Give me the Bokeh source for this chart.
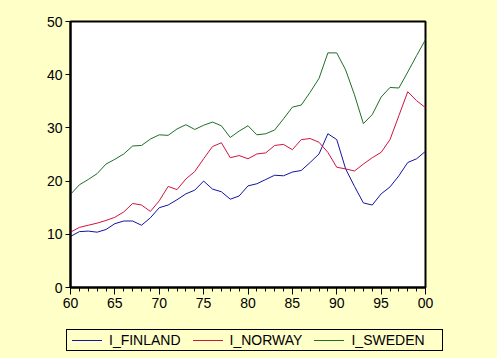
from bokeh.plotting import figure
from bokeh.layouts import column
from bokeh.models import Range1d, FixedTicker, ColumnDataSource, Div
from bokeh.embed import file_html
from bokeh.resources import INLINE

years = list(range(1960, 2001))
finland = [9.6, 10.5, 10.6, 10.4, 10.9, 12.0, 12.5, 12.5, 11.7, 13.1,
           15.0, 15.5, 16.5, 17.6, 18.3, 20.0, 18.5, 18.0, 16.6, 17.2,
           19.1, 19.5, 20.3, 21.1, 21.0, 21.7, 22.0, 23.5, 25.1, 28.9,
           27.8, 22.3, 19.0, 15.9, 15.5, 17.6, 18.9, 21.0, 23.5, 24.2, 25.6]
norway = [10.4, 11.3, 11.7, 12.1, 12.6, 13.2, 14.2, 15.8, 15.5, 14.3,
          16.3, 19.0, 18.4, 20.4, 21.8, 24.2, 26.5, 27.2, 24.4, 24.8,
          24.2, 25.1, 25.3, 26.7, 26.9, 25.9, 27.8, 28.0, 27.3, 25.4,
          22.6, 22.3, 21.9, 23.2, 24.4, 25.4, 27.8, 32.3, 36.8, 35.1, 33.8]
sweden = [17.5, 19.3, 20.3, 21.4, 23.2, 24.1, 25.1, 26.6, 26.7, 27.9,
          28.7, 28.6, 29.8, 30.6, 29.7, 30.5, 31.1, 30.4, 28.2, 29.4,
          30.4, 28.7, 28.9, 29.6, 31.7, 33.9, 34.3, 36.7, 39.3, 44.1,
          44.1, 40.9, 36.2, 30.8, 32.5, 35.8, 37.6, 37.5, 40.5, 43.6, 46.6]
series_names = ["I_FINLAND", "I_NORWAY", "I_SWEDEN"]
x_ticks = [1960, 1965, 1970, 1975, 1980, 1985, 1990, 1995, 2000]
x_tick_labels = ["60", "65", "70", "75", "80", "85", "90", "95", "00"]
y_ticks = [0, 10, 20, 30, 40, 50]

BG = "#FFFFC8"
colors = ["#1414A0", "#D0143C", "#1E6E28"]
FONT = "Liberation Sans"

# main chart
p = figure(width=497, height=317, output_backend="svg", toolbar_location=None,
           x_range=Range1d(1960, 2000), y_range=Range1d(0, 50),
           min_border_left=70, min_border_top=21, min_border_right=72, min_border_bottom=30)
p.border_fill_color = BG
p.background_fill_color = "white"
p.outline_line_color = "black"
p.outline_line_width = 2
p.xgrid.visible = False
p.ygrid.visible = False

p.xaxis.ticker = FixedTicker(ticks=x_ticks, minor_ticks=years)
p.xaxis.major_label_overrides = {t: l for t, l in zip(x_ticks, x_tick_labels)}
p.yaxis.ticker = FixedTicker(ticks=y_ticks, minor_ticks=[])
for ax in (p.xaxis[0], p.yaxis[0]):
    ax.axis_line_color = "black"
    ax.axis_line_width = 2
    ax.major_tick_line_color = "black"
    ax.minor_tick_line_color = "black"
    ax.major_tick_in = 0
    ax.minor_tick_in = 0
    ax.major_label_text_font = FONT
    ax.major_label_text_font_size = "14px"
    ax.major_label_text_color = "black"
p.xaxis.major_tick_out = 7
p.xaxis.minor_tick_out = 4
p.xaxis.major_label_standoff = 3
p.yaxis.major_tick_out = 5
p.yaxis.major_label_standoff = 3

src = ColumnDataSource(dict(x=years, f=finland, n=norway, s=sweden))
for col, c in zip(["f", "n", "s"], colors):
    p.line("x", col, source=src, line_color=c, line_width=1)

# legend strip below the chart
items_html = ""
for name, c in zip(series_names, colors):
    items_html += (
        '<span style="display:inline-flex;align-items:center;margin-right:12px;">'
        '<span style="display:inline-block;width:30px;height:0;border-top:1px solid %s;'
        'margin-right:7px;"></span><span>%s</span></span>' % (c, name))
box = ('<div style="position:absolute;left:61px;top:7px;width:370px;height:20px;'
       'border:1px solid black;background:%s;font-family:\'%s\';font-size:14px;'
       'color:black;display:flex;align-items:center;padding-left:5px;'
       'box-sizing:content-box;white-space:nowrap;line-height:20px;">%s</div>'
       % (BG, FONT, items_html))
legend_div = Div(text='<div style="position:relative;width:497px;height:41px;'
                      'background:%s;">%s</div>' % (BG, box),
                 width=497, height=41)

layout = column(p, legend_div, spacing=0)
html = file_html(layout, INLINE)
html = html.replace("</head>", "<style>html, body { background: %s; }</style></head>" % BG, 1)
open("out.html", "w").write(html)
